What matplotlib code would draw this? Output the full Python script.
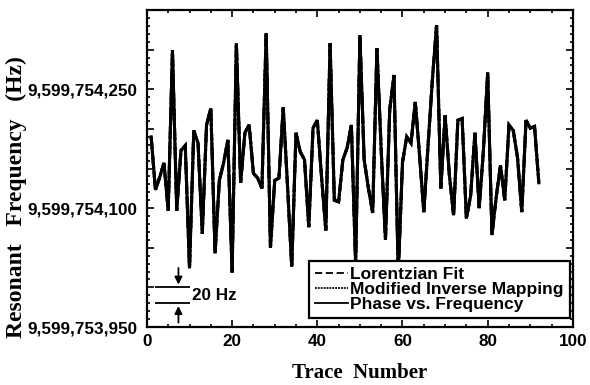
import matplotlib
matplotlib.use("Agg")
import matplotlib.pyplot as plt
from matplotlib.ticker import MultipleLocator, FuncFormatter
import numpy as np

BASE = 9599753950  # Hz
trace = list(range(1, 93))
# resonant frequency minus BASE (Hz)
offset_hz = [240, 173, 189, 207, 147, 349, 147, 223, 229, 74,
             248, 232, 118, 255, 276, 93, 185, 207, 236, 69,
             358, 182, 245, 255, 194, 188, 175, 371, 100, 185,
             188, 277, 179, 76, 245, 221, 211, 126, 251, 261,
             189, 122, 358, 160, 158, 211, 226, 255, 78, 368,
             211, 175, 144, 352, 223, 110, 274, 318, 66, 208,
             240, 232, 284, 217, 145, 229, 311, 381, 175, 267,
             192, 141, 261, 263, 137, 166, 245, 150, 223, 321,
             116, 164, 204, 160, 255, 248, 214, 145, 261, 251,
             253, 182]
freq = [BASE + v for v in offset_hz]

series_names = ["Lorentzian Fit", "Modified Inverse Mapping", "Phase vs. Frequency"]
series_styles = [(0, (4, 2)), (0, (1, 0.6)), "-"]

fig = plt.figure(figsize=(5.9, 3.85), dpi=100)
ax = fig.add_axes([0.249, 0.1506, 0.722, 0.8234])

sans = ["Liberation Sans", "DejaVu Sans"]
serif = ["Liberation Serif", "DejaVu Serif"]

for name, ls in zip(series_names, series_styles):
    ax.plot(trace, freq, color="black", lw=2.2, ls=ls, label=name,
            solid_joinstyle="miter", dash_joinstyle="miter")

ax.set_xlim(0, 100)
ax.set_ylim(BASE, BASE + 400)

ax.xaxis.set_major_locator(MultipleLocator(20))
ax.xaxis.set_minor_locator(MultipleLocator(5))
ax.yaxis.set_major_locator(MultipleLocator(50))
ax.yaxis.set_minor_locator(MultipleLocator(10))

def yfmt(v, pos):
    d = int(round(v - BASE))
    if d % 150 == 0:
        return f"{int(round(v)):,}"
    return ""
ax.yaxis.set_major_formatter(FuncFormatter(yfmt))

ax.tick_params(which="both", direction="in", top=True, right=True, width=1.2)
ax.tick_params(which="major", length=5)
ax.tick_params(which="minor", length=2.5)
ax.tick_params(axis="x", pad=5)
ax.tick_params(axis="y", pad=7)
for lab in ax.get_xticklabels() + ax.get_yticklabels():
    lab.set_fontfamily(sans)
    lab.set_fontweight("bold")
    lab.set_fontsize(12.3)

for sp in ax.spines.values():
    sp.set_linewidth(1.6)

ax.set_xlabel("Trace  Number", fontfamily=serif, fontweight="bold", fontsize=15, labelpad=10)
ax.set_ylabel("Resonant   Frequency   (Hz)", fontfamily=serif, fontweight="bold", fontsize=17)
ax.yaxis.set_label_coords(-0.282, 0.41)

# 20 Hz scale marker
ax.hlines([BASE + 50, BASE + 30], 2, 10, color="black", lw=1.3)
ax.annotate("", xy=(7.4, BASE + 50), xytext=(7.4, BASE + 78),
            arrowprops=dict(arrowstyle="-|>", color="black", lw=1.3, mutation_scale=11))
ax.annotate("", xy=(7.4, BASE + 30), xytext=(7.4, BASE + 2),
            arrowprops=dict(arrowstyle="-|>", color="black", lw=1.3, mutation_scale=11))
ax.text(10.7, BASE + 40, "20 Hz", fontfamily=sans, fontweight="bold", fontsize=12.3,
        va="center", ha="left")

leg = ax.legend(loc="lower right", bbox_to_anchor=(0.993, 0.028),
                prop=dict(family=sans, weight="bold", size=12.5),
                frameon=True, fancybox=False, edgecolor="black", framealpha=1,
                handlelength=1.9, handletextpad=0.15, labelspacing=0.0,
                borderpad=0.35, borderaxespad=0)
leg.get_frame().set_linewidth(1.6)
for h in leg.get_lines():
    h.set_linewidth(1.3)
leg.set_zorder(5)

fig.savefig("out.png", dpi=100)
